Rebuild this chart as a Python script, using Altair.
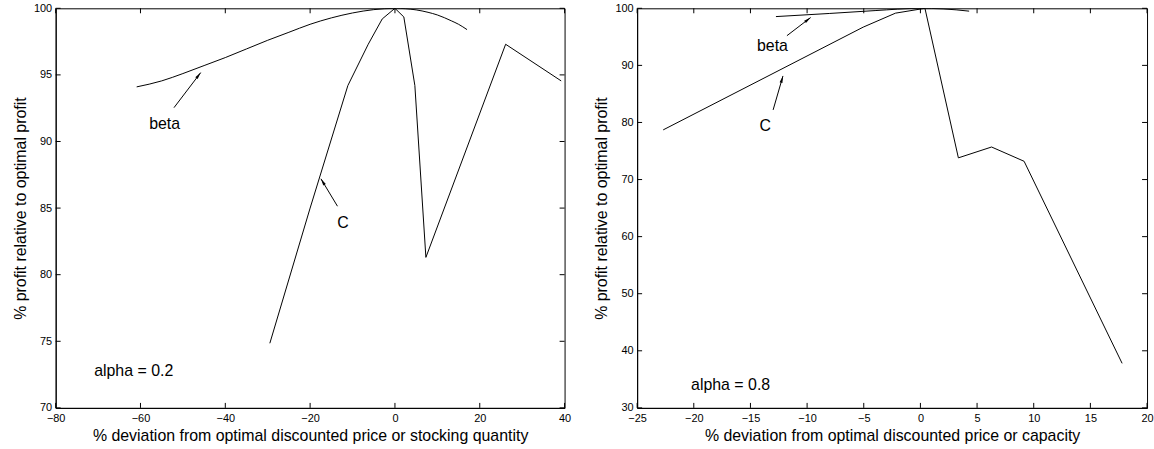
import math
import altair as alt
import pandas as pd

FONT = "Liberation Sans"
H = 402
W_L = 512
W_R = 513

# ---------------- Left panel (alpha = 0.2) ----------------
left_beta_x = [-60.9, -55, -50, -45, -40, -35, -30, -25, -20, -15, -10, -5, 0, 5, 7.8, 10, 13.3, 15, 17.0]
left_beta_y = [94.1, 94.55, 95.1, 95.7, 96.3, 96.95, 97.6, 98.2, 98.8, 99.28, 99.65, 99.9, 100, 99.88, 99.7, 99.5, 99.06, 98.8, 98.4]
left_c_x = [-29.5, -20, -11.1, -6.3, -3.0, 0, 2.1, 4.7, 7.3, 26.1, 39.2]
left_c_y = [74.85, 85.0, 94.2, 97.3, 99.2, 100, 99.35, 94.2, 81.3, 97.3, 94.55]
left_xticks = [-80, -60, -40, -20, 0, 20, 40]
left_yticks = [70, 75, 80, 85, 90, 95, 100]
left_xtitle = "% deviation from optimal discounted price or stocking quantity"
left_ytitle = "% profit relative to optimal profit"
left_labels = ["beta", "C", "alpha = 0.2"]
left_label_x = [-54.3, -12.25, -61.6]
left_label_y = [91.33, 83.87, 72.8]
left_tail_x = [-52.1, -13.55]
left_tail_y = [92.54, 85.14]
left_tip_x = [-45.8, -17.45]
left_tip_y = [95.17, 87.2]

# ---------------- Right panel (alpha = 0.8) ----------------
right_beta_x = [-12.75, -8, -4, 0, 2, 4.3]
right_beta_y = [98.55, 99.1, 99.6, 100, 99.9, 99.5]
right_c_x = [-22.7, -5.05, -2.2, 0.4, 3.35, 6.28, 9.15, 17.8]
right_c_y = [78.7, 96.7, 99.15, 100, 73.8, 75.7, 73.2, 37.8]
right_xticks = [-25, -20, -15, -10, -5, 0, 5, 10, 15, 20]
right_yticks = [30, 40, 50, 60, 70, 80, 90, 100]
right_xtitle = "% deviation from optimal discounted price or capacity"
right_ytitle = "% profit relative to optimal profit"
right_labels = ["beta", "C", "alpha = 0.8"]
right_label_x = [-13.06, -13.7, -16.75]
right_label_y = [93.47, 79.3, 33.93]
right_tail_x = [-11.78, -13.0]
right_tail_y = [95.2, 82.2]
right_tip_x = [-9.69, -12.13]
right_tip_y = [98.38, 88.15]

ARROW = "M0,-1L0.42,1L-0.42,1Z"


def panel(w, xdom, ydom, xticks, yticks, curves, labels, lx, ly,
          tx, ty, hx, hy, xtitle, ytitle):
    xs = alt.Scale(domain=xdom, nice=False, zero=False)
    ys = alt.Scale(domain=ydom, nice=False, zero=False)
    ax = alt.Axis(values=xticks, ticks=False, grid=False, labelPadding=5,
                  labelFontSize=11, labelFont=FONT, labelColor="black",
                  labelFlush=False, labelOverlap=False,
                  title=xtitle, titleFontSize=16, titleFont=FONT,
                  titleFontWeight="normal", titleColor="black", titlePadding=4,
                  domainColor="black", domainWidth=1)
    ay = alt.Axis(values=yticks, ticks=False, grid=False, labelPadding=4,
                  labelFontSize=11, labelFont=FONT, labelColor="black",
                  labelFlush=False, labelOverlap=False,
                  title=ytitle, titleFontSize=16, titleFont=FONT,
                  titleFontWeight="normal", titleColor="black", titlePadding=5,
                  domainColor="black", domainWidth=1)
    X = alt.X("x:Q", scale=xs, axis=ax)
    Y = alt.Y("y:Q", scale=ys, axis=ay)

    layers = []
    for name, (cx, cy) in curves.items():
        df = pd.DataFrame({"i": list(range(len(cx))), "x": cx, "y": cy})
        interp = "monotone" if name == "beta" else "linear"
        layers.append(alt.Chart(df).mark_line(color="black", strokeWidth=1,
                                              clip=True, interpolate=interp).encode(
            x=X, y=Y, order="i:Q"))

    xt = pd.DataFrame({"x": xticks})
    yt = pd.DataFrame({"y": yticks})
    tb = alt.Chart(xt).mark_rule(color="black", strokeWidth=1).encode(
        x=X, y=alt.value(H), y2=alt.value(H - 5))
    tt = alt.Chart(xt).mark_rule(color="black", strokeWidth=1).encode(
        x=X, y=alt.value(0), y2=alt.value(5))
    tl = alt.Chart(yt).mark_rule(color="black", strokeWidth=1).encode(
        y=Y, x=alt.value(0), x2=alt.value(5))
    tr = alt.Chart(yt).mark_rule(color="black", strokeWidth=1).encode(
        y=Y, x=alt.value(w - 5), x2=alt.value(w))

    tdf = pd.DataFrame({"x": lx, "y": ly, "t": labels})
    texts = alt.Chart(tdf).mark_text(font=FONT, fontSize=16, color="black",
                                     align="center", baseline="middle").encode(
        x=X, y=Y, text="t:N")

    sx = w / (xdom[1] - xdom[0])
    sy = H / (ydom[1] - ydom[0])
    heads = []
    for a, b, c, d in zip(tx, ty, hx, hy):
        dxp = (c - a) * sx
        dyp = -(d - b) * sy
        ang = math.degrees(math.atan2(dxp, -dyp)) % 360
        ln = math.hypot(dxp, dyp)
        back = 3.5
        cx = c - (dxp / ln) * back / sx
        cy = d + (dyp / ln) * back / sy
        heads.append({"x": cx, "y": cy, "angle": ang})
    adf = pd.DataFrame({"x": tx, "y": ty, "x2": hx, "y2": hy})
    arrows = alt.Chart(adf).mark_rule(color="black", strokeWidth=1).encode(
        x=X, y=Y, x2="x2:Q", y2="y2:Q")
    hdf = pd.DataFrame(heads)
    hd = alt.Chart(hdf).mark_point(shape=ARROW, filled=True, color="black",
                                   opacity=1, size=50, strokeWidth=0).encode(
        x=X, y=Y, angle=alt.Angle("angle:Q", scale=None))

    return alt.layer(*layers, tb, tt, tl, tr, arrows, hd, texts).properties(
        width=w, height=H)


left = panel(W_L, [-80, 40], [70, 100], left_xticks, left_yticks,
             {"beta": (left_beta_x, left_beta_y), "C": (left_c_x, left_c_y)},
             left_labels, left_label_x, left_label_y,
             left_tail_x, left_tail_y, left_tip_x, left_tip_y,
             left_xtitle, left_ytitle)
right = panel(W_R, [-25, 20], [30, 100], right_xticks, right_yticks,
              {"beta": (right_beta_x, right_beta_y), "C": (right_c_x, right_c_y)},
              right_labels, right_label_x, right_label_y,
              right_tail_x, right_tail_y, right_tip_x, right_tip_y,
              right_xtitle, right_ytitle)

chart = alt.hconcat(left, right, spacing=22).properties(
    padding={"left": 12, "top": 0, "right": 0, "bottom": 0},
    background="white",
).configure_view(stroke="black", strokeWidth=1)

chart.save("out.html", embed_options={"renderer": "svg", "actions": False})
